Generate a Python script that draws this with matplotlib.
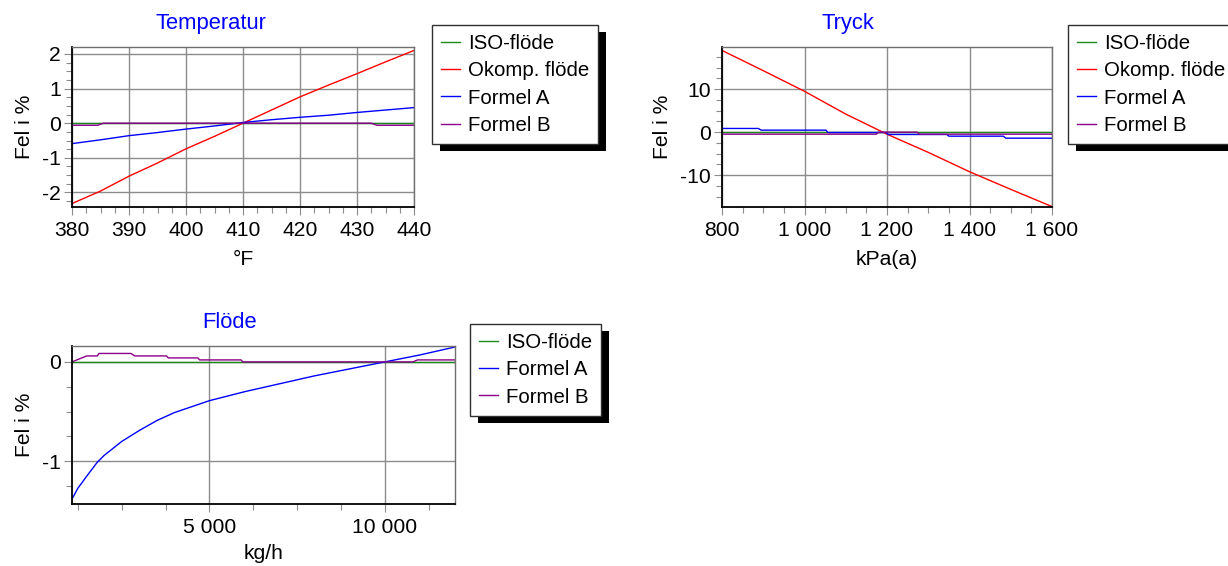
import matplotlib
matplotlib.use("Agg")
import matplotlib.pyplot as plt
from matplotlib.patches import Rectangle
from matplotlib.ticker import AutoMinorLocator, MultipleLocator, FuncFormatter

plt.rcParams['font.family'] = ['Liberation Sans', 'DejaVu Sans']
plt.rcParams['axes.unicode_minus'] = False

# ---- data: Temperatur ----
temp_x = [380, 385, 390, 395, 400, 405, 410, 415, 420, 425, 430, 435, 440]
temp_okomp = [-2.32, -1.96, -1.53, -1.15, -0.74, -0.38, 0.0, 0.38, 0.76, 1.10, 1.43, 1.77, 2.10]
temp_formel_a = [-0.59, -0.48, -0.36, -0.27, -0.17, -0.08, 0.02, 0.10, 0.17, 0.23, 0.31, 0.38, 0.45]
temp_iso = [0, 0, 0, 0, 0, 0, 0, 0, 0, 0, 0, 0, 0]
temp_b_x = [380, 384.5, 385.5, 432.5, 433.5, 440]
temp_formel_b = [-0.06, -0.06, 0.0, 0.0, -0.06, -0.06]

# ---- data: Tryck ----
tryck_x = [800, 900, 1000, 1100, 1200, 1300, 1400, 1500, 1600]
tryck_okomp = [19.0, 14.3, 9.5, 4.2, -0.47, -4.7, -9.2, -13.3, -17.3]
tryck_iso = [0, 0, 0, 0, 0, 0, 0, 0, 0]
tryck_a_x = [800, 888, 895, 1052, 1057, 1198, 1203, 1345, 1350, 1482, 1488, 1600]
tryck_formel_a = [0.86, 0.86, 0.47, 0.47, -0.08, -0.08, -0.54, -0.54, -0.93, -0.93, -1.4, -1.4]
tryck_b_x = [800, 1174, 1180, 1273, 1279, 1600]
tryck_formel_b = [-0.47, -0.47, 0.0, 0.0, -0.47, -0.47]

# ---- data: Flöde ----
flode_x = [1080, 1250, 1500, 1800, 2000, 2500, 3000, 3500, 4000, 4500, 5000,
           6000, 7000, 8000, 9000, 10000, 11000, 12000]
flode_formel_a = [-1.38, -1.27, -1.15, -1.01, -0.94, -0.80, -0.69, -0.59, -0.51, -0.45, -0.39,
                  -0.30, -0.22, -0.14, -0.07, 0.0, 0.07, 0.15]
flode_iso = [0] * len(flode_x)
flode_b_x = [1080, 1500, 1800, 1850, 2760, 2870, 3770, 3830, 4670, 4720, 5900, 5950,
             10800, 10930, 12000]
flode_formel_b = [0, 0.06, 0.06, 0.085, 0.085, 0.06, 0.06, 0.04, 0.04, 0.02, 0.02, 0,
                  0, 0.02, 0.02]

GREEN, RED, BLUE, PURPLE = '#1a8a1a', '#ff0000', '#0000ff', '#8b008b'
W, H = 1228, 566
FS = 15.2
LEG_FS = 14.7
TITLE_FS = 15.8
LW = 1.0

fig = plt.figure(figsize=(W / 100, H / 100), dpi=100)


def add_ax(left, top, right, bottom):
    return fig.add_axes([left / W, 1 - bottom / H, (right - left) / W, (bottom - top) / H])


def style(ax, xmaj, ymaj):
    ax.xaxis.set_major_locator(MultipleLocator(xmaj))
    ax.yaxis.set_major_locator(MultipleLocator(ymaj))
    ax.xaxis.set_minor_locator(AutoMinorLocator(4))
    ax.yaxis.set_minor_locator(AutoMinorLocator(4))
    ax.grid(True, which='major', color='#8c8c8c', lw=1.0)
    ax.set_axisbelow(True)
    ax.tick_params(which='major', length=6, width=0.8, color='#8c8c8c', labelsize=FS)
    ax.tick_params(which='minor', length=4, width=0.8, color='#8c8c8c')
    ax.tick_params(axis='x', which='major', pad=4)
    ax.tick_params(axis='y', which='major', pad=2)
    for s in ['left', 'bottom']:
        ax.spines[s].set_color('black')
        ax.spines[s].set_linewidth(1.3)
    for s in ['top', 'right']:
        ax.spines[s].set_color('#707070')
        ax.spines[s].set_linewidth(1.0)
    ax.set_ylabel('Fel i %', fontsize=FS)


def thousands(v, pos):
    return f"{v:,.0f}".replace(",", " ")


def add_legend(handles, labels, x, y):
    leg = fig.legend(handles, labels, loc='upper left',
                     bbox_to_anchor=(x / W, 1 - y / H), borderaxespad=0,
                     fontsize=LEG_FS, frameon=True, fancybox=False,
                     edgecolor='#303030', framealpha=1,
                     borderpad=0.45, labelspacing=0.40,
                     handlelength=0.9, handletextpad=0.4)
    leg.get_frame().set_linewidth(1.0)
    return leg


# Temperatur
ax1 = add_ax(72, 47, 414, 207)
l_iso, = ax1.plot(temp_x, temp_iso, color=GREEN, lw=LW)
l_ok, = ax1.plot(temp_x, temp_okomp, color=RED, lw=LW)
l_a, = ax1.plot(temp_x, temp_formel_a, color=BLUE, lw=LW)
l_b, = ax1.plot(temp_b_x, temp_formel_b, color=PURPLE, lw=LW)
ax1.set_xlim(380, 440)
ax1.set_ylim(-2.42, 2.2)
style(ax1, 10, 1)
ax1.set_xlabel('°F', fontsize=FS)
ax1.xaxis.set_label_coords(0.5, -0.27)
ax1.yaxis.set_label_coords(-0.11, 0.5)
fig.text(211 / W, 1 - 23 / H, 'Temperatur', color='#0000ff', fontsize=TITLE_FS,
         ha='center', va='center')
leg1 = add_legend([l_iso, l_ok, l_a, l_b],
                  ['ISO-flöde', 'Okomp. flöde', 'Formel A', 'Formel B'], 432, 25)

# Tryck
ax2 = add_ax(722, 47, 1052, 207)
ax2.plot(tryck_x, tryck_iso, color=GREEN, lw=LW)
ax2.plot(tryck_x, tryck_okomp, color=RED, lw=LW)
ax2.plot(tryck_a_x, tryck_formel_a, color=BLUE, lw=LW)
ax2.plot(tryck_b_x, tryck_formel_b, color=PURPLE, lw=LW)
ax2.set_xlim(800, 1600)
ax2.set_ylim(-17.4, 19.8)
style(ax2, 200, 10)
ax2.xaxis.set_major_formatter(FuncFormatter(thousands))
ax2.set_xlabel('kPa(a)', fontsize=FS)
ax2.xaxis.set_label_coords(0.5, -0.27)
ax2.yaxis.set_label_coords(-0.15, 0.5)
fig.text(848 / W, 1 - 23 / H, 'Tryck', color='#0000ff', fontsize=TITLE_FS,
         ha='center', va='center')
leg2 = add_legend([l_iso, l_ok, l_a, l_b],
                  ['ISO-flöde', 'Okomp. flöde', 'Formel A', 'Formel B'], 1068, 25)

# Flöde
ax3 = add_ax(72, 346, 455, 504)
f_iso, = ax3.plot(flode_x, flode_iso, color=GREEN, lw=LW)
f_a, = ax3.plot(flode_x, flode_formel_a, color=BLUE, lw=LW)
f_b, = ax3.plot(flode_b_x, flode_formel_b, color=PURPLE, lw=LW)
ax3.set_xlim(1080, 12000)
ax3.set_ylim(-1.43, 0.16)
style(ax3, 5000, 1)
ax3.xaxis.set_major_formatter(FuncFormatter(thousands))
ax3.set_xlabel('kg/h', fontsize=FS)
ax3.xaxis.set_label_coords(0.5, -0.255)
ax3.yaxis.set_label_coords(-0.1, 0.5)
fig.text(230 / W, 1 - 322 / H, 'Flöde', color='#0000ff', fontsize=TITLE_FS,
         ha='center', va='center')
leg3 = add_legend([f_iso, f_a, f_b], ['ISO-flöde', 'Formel A', 'Formel B'], 470, 324)

# black drop shadows behind the legend boxes
fig.canvas.draw()
renderer = fig.canvas.get_renderer()
for leg in (leg1, leg2, leg3):
    bb = leg.get_frame().get_window_extent(renderer)
    fig.add_artist(Rectangle(((bb.x0 + 8) / W, (bb.y0 - 7) / H), bb.width / W, bb.height / H,
                             transform=fig.transFigure, facecolor='black',
                             edgecolor='none', zorder=4))

fig.savefig('out.png', dpi=100)
